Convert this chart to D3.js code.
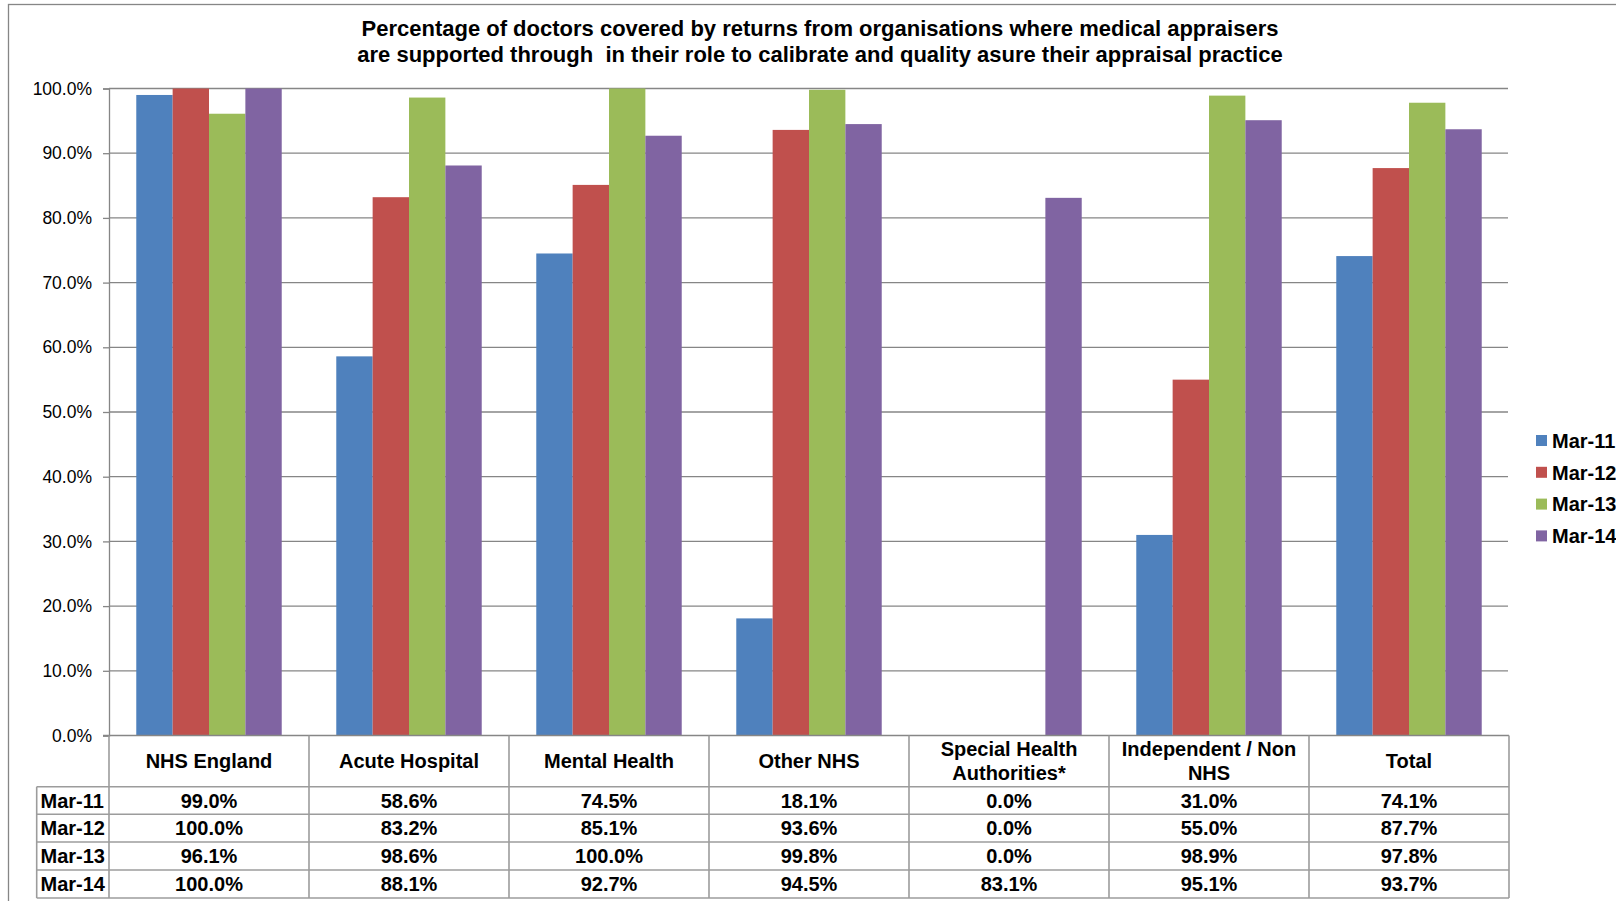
<!DOCTYPE html>
<html>
<head>
<meta charset="utf-8">
<script src="https://cdn.jsdelivr.net/npm/d3@7"></script>
<style>
body{margin:0;background:#fff;}
svg{display:block;font-family:"Liberation Sans",Arial,sans-serif;}
</style>
</head>
<body>
<script>
// categories + series
var categories = ["NHS England","Acute Hospital","Mental Health","Other NHS","Special Health Authorities*","Independent / Non NHS","Total"];
var catLines = [["NHS England"],["Acute Hospital"],["Mental Health"],["Other NHS"],["Special Health","Authorities*"],["Independent / Non","NHS"],["Total"]];
var series = ["Mar-11","Mar-12","Mar-13","Mar-14"];
var mar11 = [0.990,0.586,0.745,0.181,0.000,0.310,0.741];
var mar12 = [1.000,0.832,0.851,0.936,0.000,0.550,0.877];
var mar13 = [0.961,0.986,1.000,0.998,0.000,0.989,0.978];
var mar14 = [1.000,0.881,0.927,0.945,0.831,0.951,0.937];
var yTicks = [0,0.1,0.2,0.3,0.4,0.5,0.6,0.7,0.8,0.9,1.0];
var colors = ["#4F81BD","#C0504D","#9BBB59","#8064A2"];
var titleLines = ["Percentage of doctors covered by returns from organisations where medical appraisers",
                  "are supported through  in their role to calibrate and quality asure their appraisal practice"];

var values = [mar11,mar12,mar13,mar14];

var W=1616,H=901;
var pLeft=109,pRight=1509,pTop=88.5,pBottom=735.5;
var rowY=[786.7,814.3,842,870,898];
var grey="#868686";

var svg=d3.select("body").append("svg")
	.attr("width",W).attr("height",H);

svg.append("rect").attr("width",W).attr("height",H).attr("fill","#fff");

// chart frame
svg.append("rect")
	.attr("x",8.5).attr("y",4.5)
	.attr("width",1700).attr("height",1000)
	.attr("fill","none").attr("stroke",grey).attr("stroke-width",1.3);

var x=d3.scaleBand().domain(categories).range([pLeft,pRight]);
var xs=d3.scaleBand().domain(series).range([0,x.bandwidth()]).paddingOuter(0.75);
var y=d3.scaleLinear().domain([0,1]).range([pBottom,pTop]);

// title
svg.selectAll("text.title")
	.data(titleLines)
	.enter().append("text")
	.attr("class","title")
	.attr("x",820)
	.attr("y",function(d,i){return 36+i*25.5;})
	.attr("text-anchor","middle")
	.attr("font-size","22px")
	.attr("font-weight","bold")
	.style("white-space","pre")
	.text(function(d){return d;});

// gridlines
svg.selectAll("line.grid")
	.data(yTicks.slice(1))
	.enter().append("line")
	.attr("class","grid")
	.attr("x1",pLeft).attr("x2",pRight-1)
	.attr("y1",function(d){return y(d);})
	.attr("y2",function(d){return y(d);})
	.attr("stroke",grey).attr("stroke-width",1.3);

// y axis
var yAxis=d3.axisLeft(y).tickValues(yTicks).tickFormat(d3.format(".1%")).tickSize(6).tickPadding(11);
var ga=svg.append("g").attr("transform","translate("+pLeft+",0)").call(yAxis);
ga.select(".domain").attr("stroke",grey).attr("stroke-width",1.3);
ga.selectAll(".tick line").attr("stroke",grey).attr("stroke-width",1.3);
ga.selectAll(".tick text")
	.attr("font-size","17.5px")
	.attr("font-family","'Liberation Sans',Arial,sans-serif")
	.attr("fill","#000");

// bars
var groups=svg.selectAll("g.cat")
	.data(categories)
	.enter().append("g")
	.attr("class","cat")
	.attr("transform",function(d){return "translate("+x(d)+",0)";});

groups.selectAll("rect")
	.data(function(d,ci){return series.map(function(s,si){return {s:s,v:values[si][ci],c:colors[si]};});})
	.enter().append("rect")
	.attr("x",function(d){return xs(d.s);})
	.attr("width",xs.bandwidth())
	.attr("y",function(d){return y(d.v);})
	.attr("height",function(d){return pBottom-y(d.v);})
	.attr("fill",function(d){return d.c;});

// axis line at 0
svg.append("line")
	.attr("x1",pLeft-6).attr("x2",pRight)
	.attr("y1",pBottom).attr("y2",pBottom)
	.attr("stroke",grey).attr("stroke-width",1.3);

// data table
var tgrey="#9c9c9c";
var colEdges=categories.map(function(d){return x(d);}).concat([pRight]);
svg.selectAll("line.tcol")
	.data(colEdges)
	.enter().append("line")
	.attr("class","tcol")
	.attr("x1",function(d){return d;}).attr("x2",function(d){return d;})
	.attr("y1",pBottom).attr("y2",rowY[4])
	.attr("stroke",tgrey).attr("stroke-width",1.6);
svg.selectAll("line.trow")
	.data(rowY)
	.enter().append("line")
	.attr("class","trow")
	.attr("x1",36.7).attr("x2",pRight)
	.attr("y1",function(d){return d;}).attr("y2",function(d){return d;})
	.attr("stroke",tgrey).attr("stroke-width",1.6);
svg.append("line")
	.attr("x1",36.7).attr("x2",36.7)
	.attr("y1",rowY[0]).attr("y2",rowY[4])
	.attr("stroke",tgrey).attr("stroke-width",1.6);

// category header text
var hdr=svg.selectAll("text.hdr")
	.data(catLines)
	.enter().append("text")
	.attr("class","hdr")
	.attr("text-anchor","middle")
	.attr("font-size","20px")
	.attr("font-weight","bold")
	.attr("x",function(d,i){return x(categories[i])+x.bandwidth()/2;})
	.attr("y",function(d){return d.length==1?768:756;});
hdr.selectAll("tspan")
	.data(function(d){return d;})
	.enter().append("tspan")
	.attr("x",function(){return d3.select(this.parentNode).attr("x");})
	.attr("dy",function(d,i){return i==0?0:23.6;})
	.text(function(d){return d;});

// series rows
var fmt=d3.format(".1%");
series.forEach(function(s,si){
	var cy=(rowY[si]+rowY[si+1])/2+7.2;
	svg.append("text")
		.attr("x",40.5).attr("y",cy)
		.attr("font-size","20px").attr("font-weight","bold")
		.text(s);
	svg.selectAll("text.v"+si)
		.data(values[si])
		.enter().append("text")
		.attr("class","v"+si)
		.attr("text-anchor","middle")
		.attr("x",function(d,i){return x(categories[i])+x.bandwidth()/2;})
		.attr("y",cy)
		.attr("font-size","20px").attr("font-weight","bold")
		.text(function(d){return fmt(d);});
});

// legend
var leg=svg.selectAll("g.leg")
	.data(series)
	.enter().append("g")
	.attr("class","leg")
	.attr("transform",function(d,i){return "translate(1536,"+(440.5+i*31.8)+")";});
leg.append("rect")
	.attr("x",0).attr("y",-5.5).attr("width",11).attr("height",11)
	.attr("fill",function(d,i){return colors[i];});
leg.append("text")
	.attr("x",16).attr("y",7.2)
	.attr("font-size","20px").attr("font-weight","bold")
	.text(function(d){return d;});
</script>
</body>
</html>
